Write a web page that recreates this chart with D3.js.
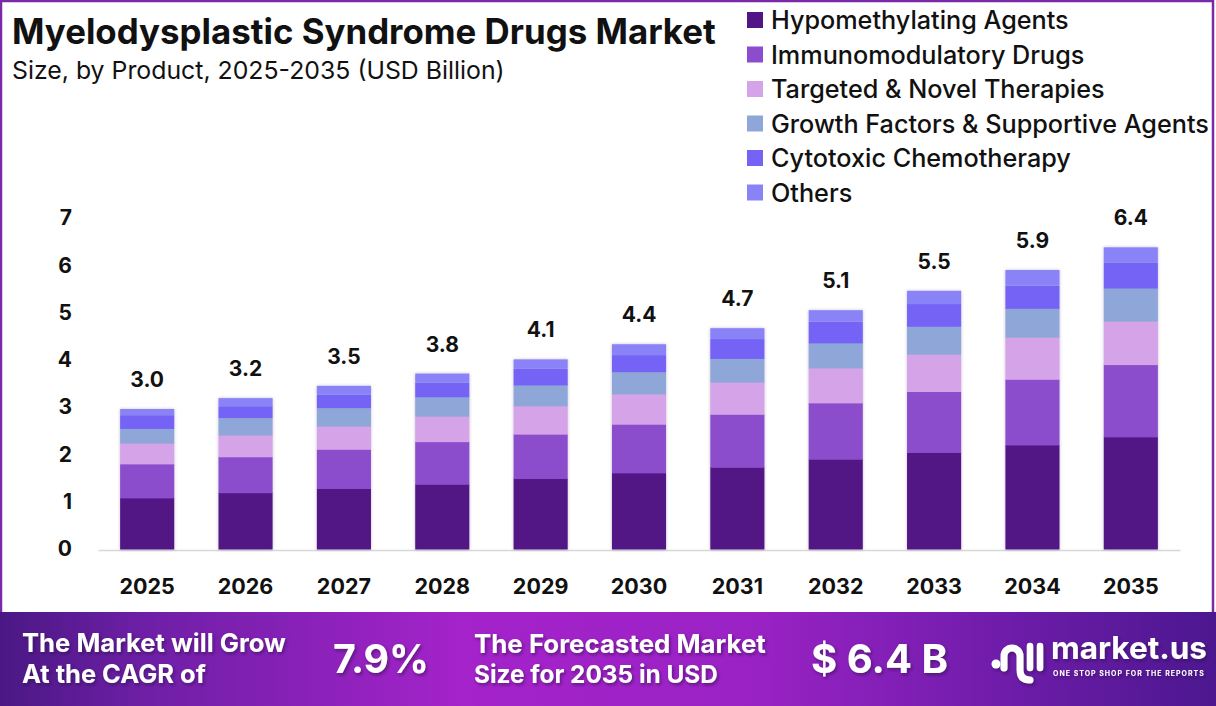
<html lang="en">
<head>
  <meta charset="UTF-8">
  <title>Myelodysplastic Syndrome Drugs Market</title>
  <script src="https://d3js.org/d3.v7.min.js"></script>
  <style>
    body { margin: 0; background: #fff; }
    svg { display: block; font-family: Inter, "Open Sans", sans-serif; }
  </style>
</head>
<body>
<div id="chart"></div>
<script>

// values (USD Billion)
const years = ["2025", "2026", "2027", "2028", "2029", "2030", "2031", "2032", "2033", "2034", "2035"];
const totalLabels = ["3.0", "3.2", "3.5", "3.8", "4.1", "4.4", "4.7", "5.1", "5.5", "5.9", "6.4"];
const segments = ["Hypomethylating Agents", "Immunomodulatory Drugs", "Targeted & Novel Therapies",
  "Growth Factors & Supportive Agents", "Cytotoxic Chemotherapy", "Others"];
const hypomethylating = [1.08, 1.19, 1.28, 1.37, 1.49, 1.61, 1.73, 1.90, 2.04, 2.20, 2.37];
const immunomodulatory = [0.72, 0.76, 0.83, 0.90, 0.94, 1.03, 1.12, 1.19, 1.29, 1.39, 1.53];
const targeted = [0.44, 0.46, 0.49, 0.54, 0.60, 0.64, 0.68, 0.74, 0.79, 0.89, 0.92];
const growthFactors = [0.31, 0.37, 0.39, 0.41, 0.44, 0.47, 0.50, 0.53, 0.59, 0.61, 0.70];
const cytotoxic = [0.28, 0.24, 0.27, 0.30, 0.34, 0.35, 0.41, 0.45, 0.47, 0.48, 0.54];
const others = [0.13, 0.17, 0.19, 0.19, 0.20, 0.23, 0.23, 0.24, 0.28, 0.33, 0.32];
const yTicks = [0, 1, 2, 3, 4, 5, 6, 7];
const cagr = "7.9%";
const forecast = "$ 6.4 B";

const colors = ["#521585", "#8b4dcb", "#d4a3e8", "#8fa6d8", "#7463f5", "#8a83f8"];
const seriesValues = [hypomethylating, immunomodulatory, targeted, growthFactors, cytotoxic, others];

const rows = years.map((yr, i) => {
  const r = { year: yr };
  segments.forEach((s, k) => r[s] = seriesValues[k][i]);
  return r;
});

const W = 1216, H = 706;

const svg = d3.select("#chart").append("svg")
  .attr("width", W)
  .attr("height", H);

const defs = svg.append("defs");

const shadow = defs.append("filter").attr("id", "barShadow")
  .attr("x", "-20%").attr("y", "-20%").attr("width", "140%").attr("height", "140%");
shadow.append("feDropShadow").attr("dx", 0).attr("dy", 0).attr("stdDeviation", 1.6)
  .attr("flood-color", "#5a3a80").attr("flood-opacity", 0.35);

const textShadow = defs.append("filter").attr("id", "textShadow")
  .attr("x", "-10%").attr("y", "-20%").attr("width", "130%").attr("height", "160%");
textShadow.append("feDropShadow").attr("dx", 1.5).attr("dy", 2).attr("stdDeviation", 1.5)
  .attr("flood-color", "#2a0a40").attr("flood-opacity", 0.55);

const grad = defs.append("linearGradient").attr("id", "footerGrad")
  .attr("x1", "0%").attr("x2", "100%").attr("y1", "0%").attr("y2", "0%");
[["0%", "#4a1884"], ["12%", "#6e1fa6"], ["38%", "#a423ca"], ["62%", "#9a22c5"], ["84%", "#6c1ca8"], ["100%", "#4c178f"]]
  .forEach(s => grad.append("stop").attr("offset", s[0]).attr("stop-color", s[1]));

// frame
svg.append("rect")
  .attr("x", 1).attr("y", 1).attr("width", W - 4).attr("height", H - 2)
  .attr("fill", "#fff").attr("stroke", "#7a2aa8").attr("stroke-width", 2.5);

// scales fit the text to the width measured in the picture
function fit(sel, w) {
  const len = sel.node().getComputedTextLength();
  sel.attr("font-size", parseFloat(sel.attr("font-size")) * w / len);
  return sel;
}

fit(svg.append("text")
  .attr("x", 12).attr("y", 44)
  .attr("font-size", 30).attr("font-weight", 700).attr("fill", "#111")
  .text("Myelodysplastic Syndrome Drugs Market"), 704);

fit(svg.append("text")
  .attr("x", 12).attr("y", 79)
  .attr("font-size", 22).attr("font-weight", 400).attr("fill", "#111")
  .text("Size, by Product, 2025-2035 (USD Billion)"), 493);

// legend
const legend = svg.append("g");
const legendRows = legend.selectAll("g").data(segments).enter().append("g")
  .attr("transform", (d, i) => `translate(747, ${20 + i * 34.5})`);
legendRows.append("rect")
  .attr("x", 0).attr("y", -8).attr("width", 16).attr("height", 16)
  .attr("fill", (d, i) => colors[i]);
const legendText = legendRows.append("text")
  .attr("x", 24).attr("y", 0).attr("dy", "0.36em")
  .attr("font-size", 22).attr("font-weight", 500).attr("fill", "#111")
  .text(d => d);
const longest = legendText.filter((d, i) => i === 3);
fit(longest, 438);
legendText.attr("font-size", longest.attr("font-size"));

// axes
const x = d3.scaleBand()
  .domain(years)
  .range([98, 1180])
  .paddingInner(0.45)
  .paddingOuter(0.225);

const y = d3.scaleLinear()
  .domain([0, 7])
  .range([549, 218]);

const yAxis = svg.append("g")
  .attr("transform", "translate(72, 0)")
  .call(d3.axisLeft(y).tickValues(yTicks).tickSize(0).tickPadding(0).tickFormat(d3.format("d")));
yAxis.select(".domain").remove();
yAxis.selectAll("text")
  .attr("font-family", "Inter, sans-serif").attr("font-size", 21).attr("font-weight", 700)
  .attr("fill", "#111").attr("text-anchor", "end");

const xAxis = svg.append("g")
  .attr("transform", "translate(0, 550)")
  .call(d3.axisBottom(x).tickSize(0).tickSizeOuter(0).tickPadding(29));
xAxis.select(".domain").attr("stroke", "#d8d8d8").attr("stroke-width", 1.5);
xAxis.selectAll("text")
  .attr("font-family", "Inter, sans-serif").attr("font-size", 21.5).attr("font-weight", 700)
  .attr("fill", "#111");

// stacked bars
const stacked = d3.stack().keys(segments)(rows);

const bars = svg.append("g").selectAll("g")
  .data(years).enter().append("g")
  .attr("filter", "url(#barShadow)");

bars.selectAll("rect")
  .data((yr, i) => stacked.map((layer, k) => ({ k: k, yr: yr, v: layer[i] })))
  .enter().append("rect")
  .attr("x", d => x(d.yr))
  .attr("width", x.bandwidth())
  .attr("y", d => y(d.v[1]))
  .attr("height", d => y(d.v[0]) - y(d.v[1]) + (d.k < 5 ? 0.5 : 0))
  .attr("fill", d => colors[d.k]);

// totals on top
const topLayer = stacked[stacked.length - 1];
svg.append("g").selectAll("text")
  .data(years).enter().append("text")
  .attr("x", d => x(d) + x.bandwidth() / 2)
  .attr("y", (d, i) => y(topLayer[i][1]) - 22)
  .attr("text-anchor", "middle")
  .attr("font-size", 21).attr("font-weight", 700).attr("fill", "#111")
  .text((d, i) => totalLabels[i]);

// footer band
svg.append("rect")
  .attr("x", 0).attr("y", 612).attr("width", W).attr("height", H - 612)
  .attr("fill", "url(#footerGrad)");

const foot = svg.append("g").attr("fill", "#fff").attr("font-weight", 700)
  .attr("filter", "url(#textShadow)");

fit(foot.append("text").attr("x", 22).attr("y", 652).attr("font-size", 23).text("The Market will Grow"), 264);
fit(foot.append("text").attr("x", 22).attr("y", 683).attr("font-size", 23).text("At the CAGR of"), 184);
fit(foot.append("text").attr("x", 333).attr("y", 673).attr("font-size", 40).text(cagr), 96);
fit(foot.append("text").attr("x", 474).attr("y", 653).attr("font-size", 23).text("The Forecasted Market"), 292);
fit(foot.append("text").attr("x", 474).attr("y", 683).attr("font-size", 23).text("Size for 2035 in USD"), 244);
fit(foot.append("text").attr("x", 811).attr("y", 673).attr("font-size", 40).text(forecast), 137);

// market.us logo
const logo = svg.append("g").attr("filter", "url(#textShadow)");
logo.append("circle").attr("cx", 996).attr("cy", 664).attr("r", 4.5).attr("fill", "#fff");
logo.append("path")
  .attr("d", "M1004,668 L1004,656 A8,8 0 0 1 1020,656 L1020,670 Q1020,680 1030,680")
  .attr("fill", "none").attr("stroke", "#fff").attr("stroke-width", 7).attr("stroke-linecap", "round");
logo.append("path")
  .attr("d", "M1030,646 L1030,668 M1040,646 L1040,668")
  .attr("fill", "none").attr("stroke", "#fff").attr("stroke-width", 6.5).attr("stroke-linecap", "round");
fit(logo.append("text").attr("x", 1051).attr("y", 659).attr("font-size", 32).attr("font-weight", 700)
  .attr("fill", "#fff").text("market.us"), 156);
fit(logo.append("text").attr("x", 1053).attr("y", 676).attr("font-size", 7).attr("font-weight", 700)
  .attr("fill", "#fff").attr("letter-spacing", 1).text("ONE STOP SHOP FOR THE REPORTS"), 152);

</script>
</body>
</html>
